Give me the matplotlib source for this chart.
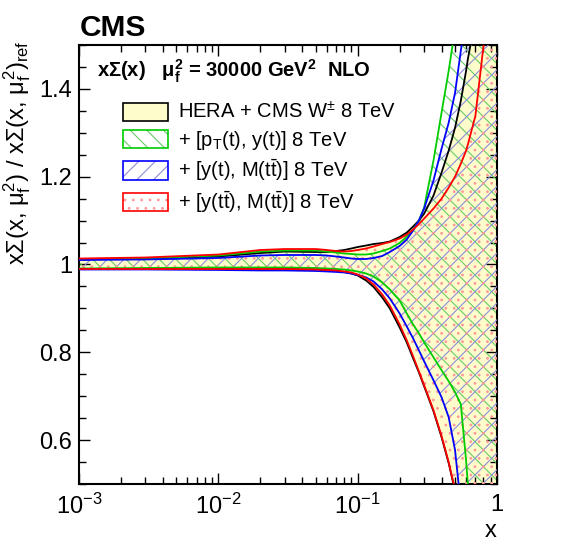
import numpy as np
import matplotlib
matplotlib.use('Agg')
import matplotlib.pyplot as plt
from matplotlib.patches import Patch
from matplotlib.ticker import MultipleLocator, LogLocator, FuncFormatter, NullFormatter

plt.rcParams['font.family'] = ['Liberation Sans', 'DejaVu Sans']
plt.rcParams['mathtext.fontset'] = 'custom'
plt.rcParams['mathtext.rm'] = 'Liberation Sans'
plt.rcParams['mathtext.it'] = 'Liberation Sans'
plt.rcParams['mathtext.bf'] = 'Liberation Sans:bold'
plt.rcParams['hatch.linewidth'] = 0.8

# x grid of the read-off points
x = np.array([1e-3, 3e-3, 1e-2, 2e-2, 3e-2, 0.05, 0.06, 0.07, 0.08, 0.09, 0.1, 0.115, 0.13,
              0.15, 0.17, 0.2, 0.225, 0.25, 0.275, 0.3, 0.35, 0.4, 0.45, 0.5, 0.55, 0.6,
              0.62, 0.7, 0.8, 1.0])

# HERA + CMS W (reference band, black)
hera_up = [1.0114, 1.0136, 1.0182, 1.0261, 1.0295, 1.0284, 1.0284, 1.0307, 1.033, 1.0364,
           1.0398, 1.0432, 1.0466, 1.0489, 1.0523, 1.0625, 1.0727, 1.0864, 1.1, 1.1159,
           1.1568, 1.2091, 1.2591, 1.3114, 1.3727, 1.4409, 1.4705, 1.5591, 1.6455, 1.7818]
hera_lo = [0.9898, 0.9898, 0.9898, 0.9898, 0.9898, 0.9886, 0.9875, 0.9852, 0.983, 0.9795,
           0.975, 0.9636, 0.9489, 0.925, 0.9, 0.8568, 0.8227, 0.7864, 0.7545, 0.7227,
           0.6659, 0.6068, 0.5477, 0.4841, 0.4227, 0.3659, 0.3432, 0.2636, 0.1773, 0.0295]
# + [pT(t), y(t)] (green)
pt_up = [1.0125, 1.0136, 1.0205, 1.0295, 1.0318, 1.0318, 1.0295, 1.0273, 1.025, 1.0239,
         1.0227, 1.0227, 1.025, 1.0307, 1.0364, 1.0489, 1.0636, 1.0795, 1.1, 1.1295,
         1.2364, 1.3455, 1.4409, 1.5364, 1.6227, 1.7023, 1.7318, 1.8386, 1.9523, 2.1341]
pt_lo = [0.9909, 0.992, 0.9932, 0.9932, 0.9932, 0.992, 0.9909, 0.9898, 0.9886, 0.9864,
         0.9841, 0.9795, 0.9727, 0.9591, 0.9432, 0.9182, 0.8886, 0.8636, 0.8432, 0.8227,
         0.7886, 0.7591, 0.7341, 0.7091, 0.6818, 0.5545, 0.4932, 0.2818, 0.0545, -0.3318]
# + [y(t), M(tt)] (blue)
yt_up = [1.0102, 1.0114, 1.0148, 1.0205, 1.0216, 1.0216, 1.0205, 1.0182, 1.0159, 1.0136,
         1.0125, 1.0125, 1.0148, 1.0193, 1.0284, 1.042, 1.0568, 1.0773, 1.1, 1.1273,
         1.1909, 1.2636, 1.3227, 1.3909, 1.4864, 1.5682, 1.6, 1.7023, 1.8159, 1.9977]
yt_lo = [0.9886, 0.9886, 0.9875, 0.9864, 0.9864, 0.9852, 0.9841, 0.983, 0.9818, 0.9795,
         0.9761, 0.9705, 0.9614, 0.9432, 0.9227, 0.8886, 0.8591, 0.8318, 0.8045, 0.7795,
         0.7364, 0.6977, 0.6523, 0.5773, 0.4523, 0.3386, 0.2932, 0.1227, -0.0591, -0.3545]
# + [y(tt), M(tt)] (red)
ytt_up = [1.0136, 1.0159, 1.0227, 1.033, 1.0352, 1.0352, 1.033, 1.0307, 1.0295, 1.0307,
          1.033, 1.0364, 1.0409, 1.0466, 1.0511, 1.0591, 1.0682, 1.0795, 1.092, 1.1045,
          1.1273, 1.15, 1.175, 1.2, 1.2295, 1.2591, 1.275, 1.3386, 1.4977, 1.7818]
ytt_lo = [0.9898, 0.9898, 0.9898, 0.9898, 0.9898, 0.9886, 0.9875, 0.9864, 0.9841, 0.9818,
          0.9773, 0.9682, 0.9545, 0.9318, 0.9068, 0.8636, 0.8273, 0.7909, 0.7568, 0.725,
          0.6682, 0.6091, 0.55, 0.4864, 0.425, 0.3682, 0.3455, 0.2659, 0.1795, 0.0318]

labels = [r'HERA + CMS W$^{\pm}$ 8 TeV',
          r'+ [p$_{T}$(t), y(t)] 8 TeV',
          r'+ [y(t), M(t$\bar{\mathrm{t}}$)] 8 TeV',
          r'+ [y(t$\bar{\mathrm{t}}$), M(t$\bar{\mathrm{t}}$)] 8 TeV']

yellow = '#fffccc'
c_pt, h_pt = '#00cc00', '#66cc66'
c_yt, h_yt = '#0000ff', '#8c8cdc'
c_ytt, h_ytt = '#ff0000', '#ff9999'

fig = plt.figure(figsize=(5.67, 5.46), dpi=100)
ax = fig.add_axes([0.1393, 0.1136, 0.7372, 0.804])

ax.fill_between(x, hera_lo, hera_up, facecolor=yellow, edgecolor='none', lw=0, zorder=1)
ax.fill_between(x, pt_lo, pt_up, facecolor='none', edgecolor=h_pt, hatch=r'\\', lw=0, zorder=2)
ax.fill_between(x, yt_lo, yt_up, facecolor='none', edgecolor=h_yt, hatch='//', lw=0, zorder=3)
ax.fill_between(x, ytt_lo, ytt_up, facecolor='none', edgecolor=h_ytt, hatch='..', lw=0, zorder=4)

lw = 1.3
for lo, up, c in [(hera_lo, hera_up, 'black'), (pt_lo, pt_up, c_pt),
                  (yt_lo, yt_up, c_yt), (ytt_lo, ytt_up, c_ytt)]:
    ax.plot(x, up, color=c, lw=lw, zorder=5)
    ax.plot(x, lo, color=c, lw=lw, zorder=5)

ax.set_xscale('log')
ax.set_xlim(1e-3, 1)
ax.set_ylim(0.5, 1.5)

ax.xaxis.set_major_locator(LogLocator(base=10, numticks=10))
ax.xaxis.set_minor_locator(LogLocator(base=10, subs=np.arange(2, 10), numticks=10))
ax.xaxis.set_minor_formatter(NullFormatter())
ax.xaxis.set_major_formatter(FuncFormatter(
    lambda v, p: '1' if abs(v - 1) < 1e-9 else r'$10^{%d}$' % round(np.log10(v))))
ax.yaxis.set_major_locator(MultipleLocator(0.2))
ax.yaxis.set_minor_locator(MultipleLocator(0.05))
ax.yaxis.set_major_formatter(FuncFormatter(lambda v, p: '%g' % round(v, 2)))

ax.tick_params(which='both', direction='in', top=True, right=True, width=1.0)
ax.tick_params(which='major', length=8)
ax.tick_params(which='minor', length=5)
ax.tick_params(axis='y', labelsize=17, pad=5)
ax.tick_params(axis='x', labelsize=17, pad=7)
for s in ax.spines.values():
    s.set_linewidth(1.5)

ax.set_xlabel('x', fontsize=17, loc='right', va='baseline')
ax.xaxis.set_label_coords(1.0, -0.121)
ax.set_ylabel(r'x$\Sigma$(x, $\mu_{f}^{2}$) / x$\Sigma$(x, $\mu_{f}^{2}$)$_{\mathrm{ref}}$',
              fontsize=17, loc='top')
ax.yaxis.set_label_coords(-0.110, 1.01)

handles = [Patch(facecolor=yellow, edgecolor='black', lw=1.2),
           (Patch(facecolor='white', edgecolor=h_pt, hatch=r'\\', lw=0),
            Patch(facecolor='none', edgecolor=c_pt, lw=1.2)),
           (Patch(facecolor='white', edgecolor=h_yt, hatch='//', lw=0),
            Patch(facecolor='none', edgecolor=c_yt, lw=1.2)),
           (Patch(facecolor='white', edgecolor=h_ytt, hatch='..', lw=0),
            Patch(facecolor='none', edgecolor=c_ytt, lw=1.2))]
ax.legend(handles, labels, loc='upper left', bbox_to_anchor=(0.105, 0.872),
          frameon=False, fontsize=14.5, handlelength=2.25, handleheight=1.0,
          handletextpad=0.5, labelspacing=0.3, borderpad=0, borderaxespad=0)

ax.text(0.042, 0.927,
        r'x$\mathbf{\Sigma}$(x)   $\mathbf{\mu_{f}^{2}}$ = 30000 GeV$^{\mathbf{2}}$  NLO',
        transform=ax.transAxes, fontsize=14.5, fontweight='bold', va='baseline', ha='left', zorder=6)

fig.text(80 / 567, 1 - 36 / 546, 'CMS', fontsize=21.5, fontweight='bold', va='baseline', ha='left')

fig.savefig('out.png', dpi=100)
